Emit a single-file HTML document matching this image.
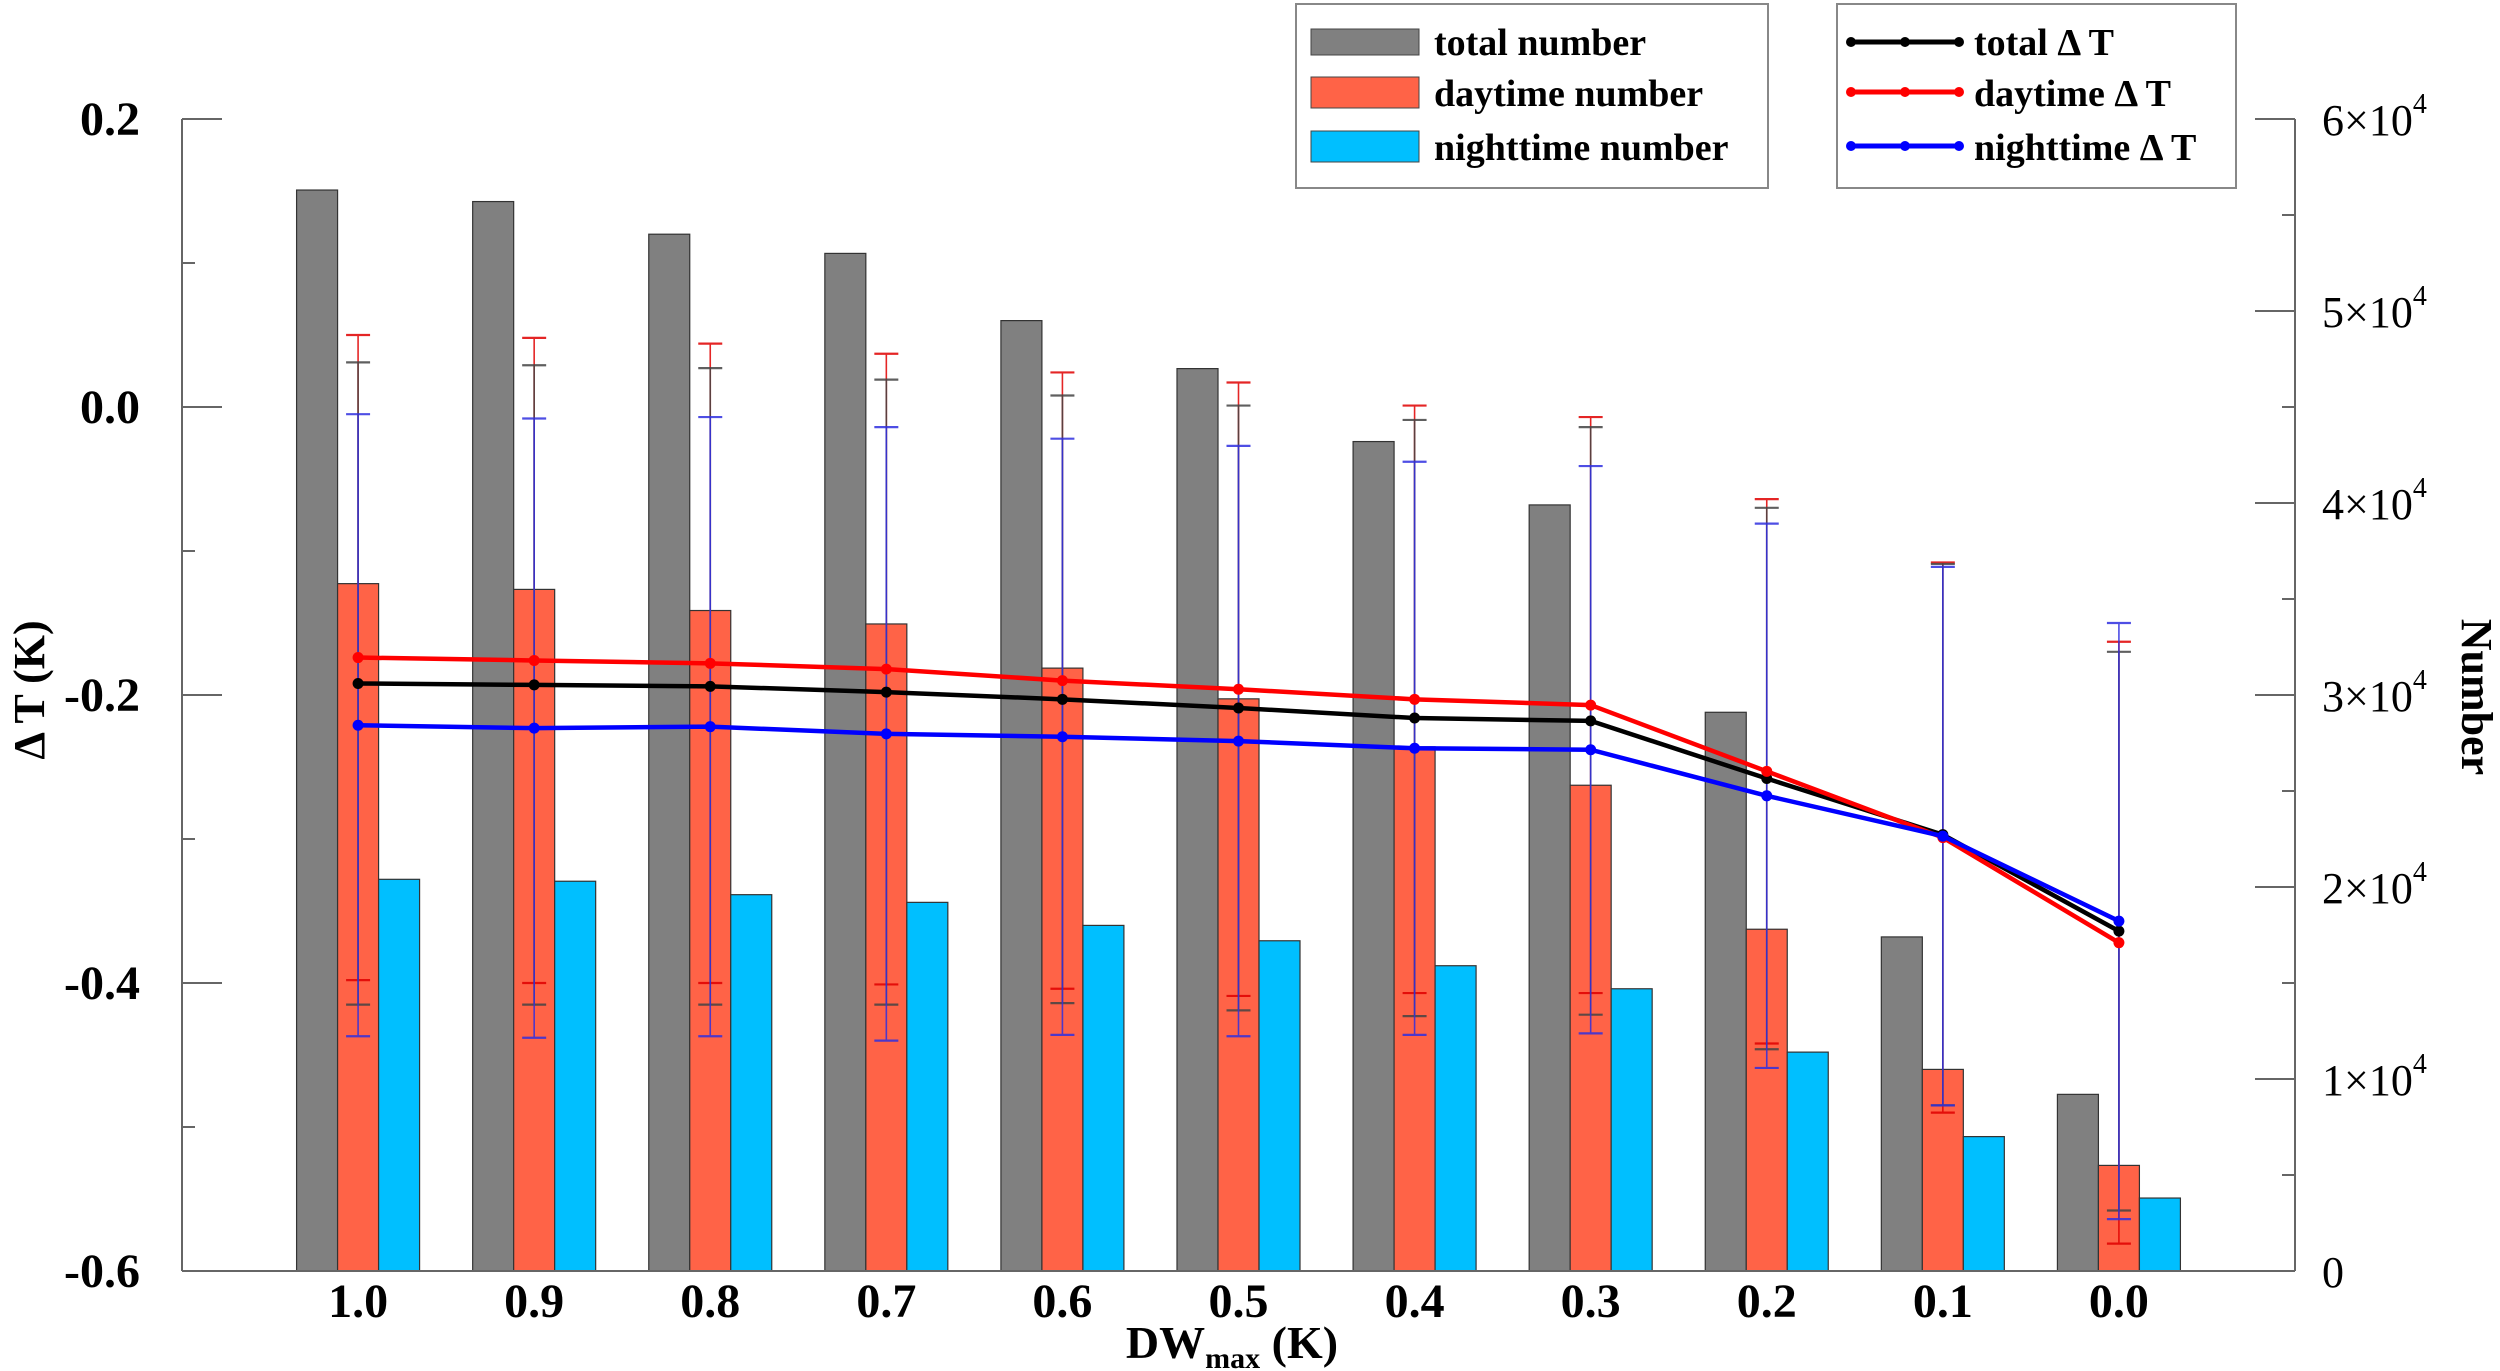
<!DOCTYPE html>
<html><head><meta charset="utf-8"><style>
body{margin:0;background:#fff;}
svg{display:block;font-family:"Liberation Serif",serif;font-weight:bold;}
</style></head><body>
<svg id="chart" width="2500" height="1371" viewBox="0 0 2500 1371" xmlns="http://www.w3.org/2000/svg"></svg>
<script>
const categories=["1.0","0.9","0.8","0.7","0.6","0.5","0.4","0.3","0.2","0.1","0.0"];
const totalCount=[56300,55700,54000,53000,49500,47000,43200,39900,29100,17400,9200];
const dayCount=[35800,35500,34400,33700,31400,29800,27300,25300,17800,10500,5500];
const nightCount=[20400,20300,19600,19200,18000,17200,15900,14700,11400,7000,3800];
const totalDT=[-0.192,-0.193,-0.194,-0.198,-0.203,-0.209,-0.216,-0.218,-0.258,-0.297,-0.364];
const dayDT=[-0.174,-0.176,-0.178,-0.182,-0.190,-0.196,-0.203,-0.207,-0.253,-0.299,-0.372];
const nightDT=[-0.221,-0.223,-0.222,-0.227,-0.229,-0.232,-0.237,-0.238,-0.270,-0.298,-0.357];
const totalErr=[0.223,0.222,0.221,0.217,0.211,0.210,0.207,0.204,0.188,0.188,0.194];
const dayErr=[0.224,0.224,0.222,0.219,0.214,0.213,0.204,0.200,0.189,0.191,0.209];
const nightErr=[0.216,0.215,0.215,0.213,0.207,0.205,0.199,0.197,0.189,0.187,0.207];
const leftTicks=[0.2,0.0,-0.2,-0.4,-0.6];
const leftTickLabels=["0.2","0.0","-0.2","-0.4","-0.6"];
const rightTicks=[0,10000,20000,30000,40000,50000,60000];
const rightTickMant=["0","1","2","3","4","5","6"];

const svg=document.getElementById('chart');
const NS="http://www.w3.org/2000/svg";
const X0=182,X1=2295,YT=119,YB=1271;
const step=(X1-X0)/12;
const cx=i=>X0+(i+1)*step;
const yL=v=>YB-(v+0.6)/0.8*(YB-YT);
const yR=v=>YB-v/60000*(YB-YT);
function mk(tag,attrs,parent){const e=document.createElementNS(NS,tag);for(const k in attrs)e.setAttribute(k,attrs[k]);(parent||svg).appendChild(e);return e;}

// bars
const BW=41;
const barSeries=[[totalCount,"#808080","total"],[dayCount,"#FF6347","day"],[nightCount,"#00BFFF","night"]];
barSeries.forEach((s,k)=>{
  s[0].forEach((v,i)=>{
    const x=cx(i)+(k-1)*BW-BW/2;
    const r=mk('rect',{x:x,y:yR(v),width:BW,height:YB-yR(v),fill:s[1],stroke:"#333",'stroke-width':1.2});
    
    
  });
});

// error bars
const errSeries=[[dayDT,dayErr,"#e00000","day"],[totalDT,totalErr,"#444","total"],[nightDT,nightErr,"#3030e0","night"]];
errSeries.forEach(s=>{
  s[0].forEach((v,i)=>{
    const g=mk('g',{stroke:s[2],'stroke-width':1.6,opacity:0.85});
    
    
    const x=cx(i),t=yL(v+s[1][i]),b=yL(v-s[1][i]);
    mk('line',{x1:x,x2:x,y1:t,y2:b},g);
    mk('line',{x1:x-12,x2:x+12,y1:t,y2:t,'stroke-width':2.2},g);
    mk('line',{x1:x-12,x2:x+12,y1:b,y2:b,'stroke-width':2.2},g);
  });
});

// lines
const lineSeries=[[totalDT,"#000","total"],[dayDT,"#ff0000","day"],[nightDT,"#0000ff","night"]];
lineSeries.forEach(s=>{
  const p=mk('polyline',{points:s[0].map((v,i)=>cx(i)+','+yL(v)).join(' '),fill:'none',stroke:s[1],'stroke-width':4.5});
  
  
  s[0].forEach((v,i)=>{
    const c=mk('circle',{cx:cx(i),cy:yL(v),r:5.5,fill:s[1]});
    
    
  });
});

// axes
const ax=mk('g',{stroke:'#666','stroke-width':2,fill:'none'});


mk('line',{x1:X0,x2:X0,y1:YT,y2:YB},ax);
mk('line',{x1:X1,x2:X1,y1:YT,y2:YB},ax);
mk('line',{x1:X0,x2:X1,y1:YB,y2:YB},ax);
leftTicks.forEach((v,i)=>{
  mk('line',{x1:X0,x2:X0+40,y1:yL(v),y2:yL(v)},ax);
  if(i<leftTicks.length-1){const m=v-0.1;mk('line',{x1:X0,x2:X0+13,y1:yL(m),y2:yL(m)},ax);}
  const t=mk('text',{x:140,y:yL(v)+16,'text-anchor':'end','font-size':48,fill:'#000'});
  t.textContent=leftTickLabels[i];
  
  
});
rightTicks.forEach((v,i)=>{
  mk('line',{x1:X1-40,x2:X1,y1:yR(v),y2:yR(v)},ax);
  if(i<rightTicks.length-1){const m=v+5000;mk('line',{x1:X1-13,x2:X1,y1:yR(m),y2:yR(m)},ax);}
  const t=mk('text',{x:2322,y:yR(v)+16,'font-size':44,fill:'#000','font-weight':'normal'});
  if(v===0){t.textContent='0';}
  else{t.textContent=rightTickMant[i]+'×10';const s=mk('tspan',{dy:-22,'font-size':28},t);s.textContent='4';}
  
  
});
categories.forEach((c,i)=>{
  const t=mk('text',{x:cx(i),y:1317,'text-anchor':'middle','font-size':48,fill:'#000'});
  t.textContent=c;
  
  
});
</script>
<svg style="position:absolute;left:0;top:0" width="2500" height="1371">
<text x="1232" y="1358" text-anchor="middle" font-size="46" font-family="Liberation Serif" font-weight="bold">DW<tspan font-size="30" dy="10">max</tspan><tspan dy="-10"> (K)</tspan></text>
<text transform="translate(44,690) rotate(-90)" text-anchor="middle" font-size="44" font-family="Liberation Serif" font-weight="bold">Δ T (K)</text>
<text transform="translate(2462,697) rotate(90)" text-anchor="middle" font-size="44" font-family="Liberation Serif" font-weight="bold">Number</text>
<g font-family="Liberation Serif" font-weight="bold" font-size="38">
<rect x="1296" y="4" width="472" height="184" fill="#fff" stroke="#888" stroke-width="2"/>
<rect x="1311" y="29" width="108" height="26" fill="#808080" stroke="#444"/>
<text x="1434" y="55">total number</text>
<rect x="1311" y="77" width="108" height="31" fill="#FF6347" stroke="#444"/>
<text x="1434" y="106">daytime number</text>
<rect x="1311" y="131" width="108" height="31" fill="#00BFFF" stroke="#444"/>
<text x="1434" y="160">nighttime number</text>
</g>
<g font-family="Liberation Serif" font-weight="bold" font-size="38">
<rect x="1837" y="4" width="399" height="184" fill="#fff" stroke="#888" stroke-width="2"/>
<g><line x1="1847" x2="1963" y1="42" y2="42" stroke="#000" stroke-width="5"/><circle cx="1851" cy="42" r="5"/><circle cx="1905" cy="42" r="5"/><circle cx="1959" cy="42" r="5"/></g>
<text x="1974" y="55">total Δ T</text>
<g fill="#f00"><line x1="1847" x2="1963" y1="92" y2="92" stroke="#f00" stroke-width="5"/><circle cx="1851" cy="92" r="5"/><circle cx="1905" cy="92" r="5"/><circle cx="1959" cy="92" r="5"/></g>
<text x="1974" y="106">daytime Δ T</text>
<g fill="#00f"><line x1="1847" x2="1963" y1="146" y2="146" stroke="#00f" stroke-width="5"/><circle cx="1851" cy="146" r="5"/><circle cx="1905" cy="146" r="5"/><circle cx="1959" cy="146" r="5"/></g>
<text x="1974" y="160">nighttime Δ T</text>
</g>
</svg>
</body></html>
